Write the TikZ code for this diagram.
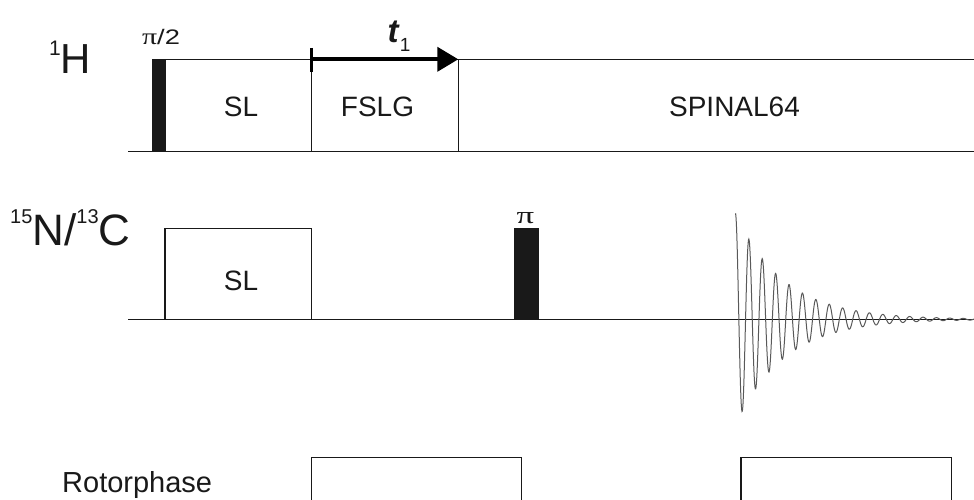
\documentclass[tikz,border=0pt]{standalone}
\usepackage{fontspec}
\usepackage{graphicx}
\setmainfont{Liberation Sans}
\newfontfamily\serifgr{Liberation Serif}
\usetikzlibrary{arrows.meta}
\tikzset{
  ln/.style={line width=1.3pt, draw=black!90},
  pulse/.style={fill=black!90, draw=black!90, line width=0.5pt},
  lbl/.style={inner sep=0pt, anchor=base, text=black!90},
  fid/.style={line width=1pt, draw=black!65},
}
\begin{document}
\begin{tikzpicture}[x=1pt,y=-1pt]
\useasboundingbox (0,0) rectangle (974,500);

% ---------- 1H channel ----------
\coordinate (hB0) at (128,151.7);
\coordinate (hB1) at (974,151.7);
\coordinate (hT0) at (165,59.3);
\coordinate (hT1) at (974,59.3);
\coordinate (slR) at (311.7,59.3);
\coordinate (slRb) at (311.7,151.7);
\coordinate (fsR) at (458.3,59.3);
\coordinate (fsRb) at (458.3,151.7);
\coordinate (tickT) at (311.7,48);
\coordinate (tickB) at (311.7,72);

\draw[ln] (hB0) -- (hB1);
\draw[ln] (hT0) -- (hT1);
\draw[ln] (slR) -- (slRb);
\draw[ln] (fsR) -- (fsRb);
\fill[pulse] (152,59.3) rectangle (165,151.7);
\draw[line width=3.2pt] (tickT) -- (tickB);
\draw[line width=4pt, -{Triangle[length=21pt,width=24pt]}] (slR) -- (fsR);

\node[lbl, anchor=base west] (H1) at (49,73.3)
  {\raisebox{18pt}{\fontsize{21}{21}\selectfont 1}\fontsize{42}{42}\selectfont H};
\node[lbl] (p2) at (161,45)
  {\scalebox{1.3}[1]{\fontsize{21}{21}\selectfont{\serifgr\fontsize{23}{23}\selectfont π}/2}};
\node[lbl] (t1) at (399,43)
  {\fontsize{33}{33}\selectfont\textbf{\textit{t}}\raisebox{-9pt}{\fontsize{19}{19}\selectfont 1}};
\node[lbl] (sl1) at (241,116.7) {\fontsize{28}{28}\selectfont SL};
\node[lbl] (fslg) at (377.5,116.7) {\fontsize{28}{28}\selectfont FSLG};
\node[lbl] (spin) at (734.5,116.7) {\fontsize{28}{28}\selectfont SPINAL64};

% ---------- 15N/13C channel ----------
\coordinate (nB0) at (128,319.3);
\coordinate (nB1) at (974,319.3);
\draw[ln] (nB0) -- (nB1);
\draw[ln] (165,319.3) -- (165,228.3) -- (311.7,228.3) -- (311.7,319.3);
\fill[pulse] (514.3,228.3) rectangle (538.6,319.3);

\node[lbl, anchor=base west] (N15) at (10,245)
  {\raisebox{21.5pt}{\fontsize{20}{20}\selectfont 15}\fontsize{44}{44}\selectfont N/\raisebox{21.5pt}{\fontsize{20}{20}\selectfont 13}C};
\node[lbl] (pi) at (525.5,223)
  {\scalebox{1.45}[1]{\fontsize{24}{24}\selectfont\serifgr π}};

% FID
\draw[fid] plot[domain=0:239, samples=700]
  ({735.5+\x},{319.3-106*exp(-\x/48)*cos(26.866*\x)});

\node[lbl] (sl2) at (241,290) {\fontsize{28}{28}\selectfont SL};

% ---------- Rotorphase ----------
\node[lbl, anchor=base west] (rot) at (62,492.7) {\fontsize{29}{29}\selectfont Rotorphase};
\draw[ln] (311.7,502) -- (311.7,457.3) -- (521.7,457.3) -- (521.7,502);
\draw[ln] (741,502) -- (741,457.3) -- (951.7,457.3) -- (951.7,502);
\end{tikzpicture}
\end{document}
